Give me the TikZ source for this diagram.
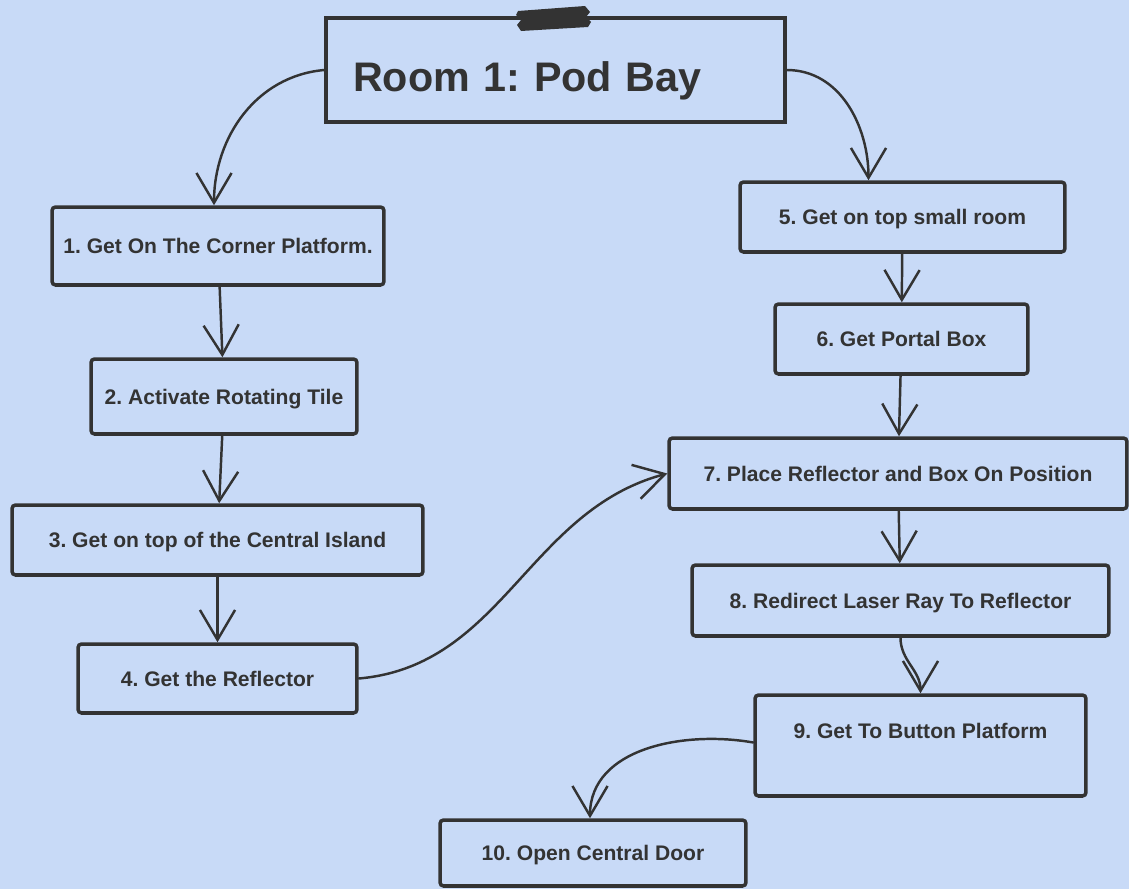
\documentclass[tikz,border=0pt]{standalone}
\usepackage{fontspec}
\setmainfont{Liberation Sans}
\usetikzlibrary{arrows.meta}
\definecolor{bgblue}{RGB}{200,218,247}
\definecolor{ink}{RGB}{51,51,51}
\frenchspacing
\begin{document}
\begin{tikzpicture}[x=0.02cm, y=-0.02cm,
	stepbox/.style={draw=ink, line width=2pt, rounded corners=2pt, text=ink, font=\bfseries\fontsize{12}{14}\selectfont, text height=0.3cm, text depth=0cm, inner sep=0pt},
	titlebox/.style={draw=ink, line width=2pt, text=ink, font=\bfseries\fontsize{23.5}{28}\selectfont, align=left, inner xsep=0.54cm, inner ysep=0pt, text height=0.88cm, text depth=0cm},
	flow/.style={draw=ink, line width=1.4pt, line cap=round, line join=round, -{Straight Barb[length=17pt, width=20pt]}}]
	\fill[bgblue] (0, 0) rectangle (1129, 889);
	\useasboundingbox (0, 0) rectangle (1129, 889);

	\node[titlebox, text width=8.1cm, minimum height=2.08cm] at (555.5, 70) (title) {Room 1: Pod Bay};
	\fill[ink] (518, 11) -- (585, 6) -- (590, 12) -- (586, 17) -- (591, 22) -- (588, 27) -- (521, 31) -- (517, 25) -- (521, 20) -- (516, 15) -- cycle;

	\node[stepbox, minimum width=6.64cm, minimum height=1.56cm] at (218, 246) (s1) {1. Get On The Corner Platform.};
	\node[stepbox, minimum width=5.32cm, minimum height=1.5cm] at (224, 396.5) (s2) {2. Activate Rotating Tile};
	\node[stepbox, minimum width=8.22cm, minimum height=1.4cm] at (217.5, 540) (s3) {3. Get on top of the Central Island};
	\node[stepbox, minimum width=5.58cm, minimum height=1.38cm] at (217.5, 678.5) (s4) {4. Get the Reflector};
	\node[stepbox, minimum width=6.5cm, minimum height=1.4cm] at (902.5, 217) (s5) {5. Get on top small room};
	\node[stepbox, minimum width=5.06cm, minimum height=1.4cm] at (901.5, 339) (s6) {6. Get Portal Box};
	\node[stepbox, minimum width=9.16cm, minimum height=1.42cm] at (898, 473.5) (s7) {7. Place Reflector and Box On Position};
	\node[stepbox, minimum width=8.34cm, minimum height=1.42cm] at (900.5, 600.5) (s8) {8. Redirect Laser Ray To Reflector};
	\node[stepbox, minimum width=6.62cm, minimum height=2.02cm, text height=0.35cm, text depth=0.63cm] at (920.5, 745.5) (s9) {9. Get To Button Platform};
	\node[stepbox, minimum width=6.12cm, minimum height=1.32cm] at (593, 853) (s10) {10. Open Central Door};

	\draw [flow] (title.west) to[out=185, in=90] ([xshift=-0.08cm]s1.north);
	\draw [flow] (title.east) to[out=0, in=90] ([xshift=-0.68cm]s5.north);
	\draw [flow] (s1) edge (s2) (s2) edge (s3) (s3) edge (s4);
	\draw [flow] (s4.east) to[out=5, in=195] (s7.west);
	\draw [flow] (s5) edge (s6) (s6) edge (s7) (s7) edge (s8);
	\draw [flow] (s8.south) to[out=-90, in=90] (s9.north);
	\draw [flow] ([yshift=0.06cm]s9.west) to[out=170, in=90] ([xshift=-0.06cm]s10.north);
\end{tikzpicture}
\end{document}
